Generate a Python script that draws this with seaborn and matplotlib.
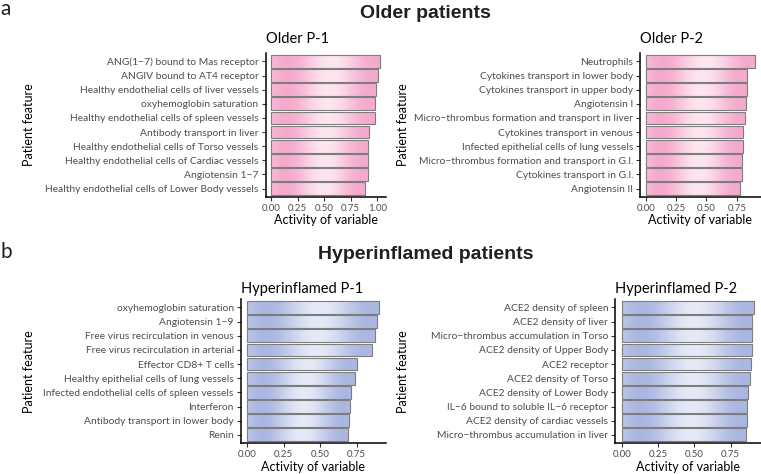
import numpy as np
import pandas as pd
import matplotlib
matplotlib.use("Agg")
import matplotlib.pyplot as plt
import seaborn as sns
from matplotlib.colors import to_rgb
from matplotlib.ticker import MultipleLocator, FormatStrFormatter

# data
older_p1_features = ["ANG(1\u22127) bound to Mas receptor", "ANGIV bound to AT4 receptor",
                     "Healthy endothelial cells of liver vessels", "oxyhemoglobin saturation",
                     "Healthy endothelial cells of spleen vessels", "Antibody transport in liver",
                     "Healthy endothelial cells of Torso vessels", "Healthy endothelial cells of Cardiac vessels",
                     "Angiotensin 1\u22127", "Healthy endothelial cells of Lower Body vessels"]
older_p1_values = [1.03, 1.01, 0.985, 0.975, 0.975, 0.925, 0.915, 0.913, 0.91, 0.888]

older_p2_features = ["Neutrophils", "Cytokines transport in lower body", "Cytokines transport in upper body",
                     "Angiotensin I", "Micro\u2212thrombus formation and transport in liver",
                     "Cytokines transport in venous", "Infected epithelial cells of lung vessels",
                     "Micro\u2212thrombus formation and transport in G.I.", "Cytokines transport in G.I.",
                     "Angiotensin II"]
older_p2_values = [0.90, 0.831, 0.831, 0.826, 0.815, 0.80, 0.798, 0.796, 0.79, 0.777]

hyper_p1_features = ["oxyhemoglobin saturation", "Angiotensin 1\u22129", "Free virus recirculation in venous",
                     "Free virus recirculation in arterial", "Effector CD8+ T cells",
                     "Healthy epithelial cells of lung vessels", "Infected endothelial cells of spleen vessels",
                     "Interferon", "Antibody transport in lower body", "Renin"]
hyper_p1_values = [0.906, 0.892, 0.876, 0.854, 0.755, 0.741, 0.709, 0.705, 0.698, 0.693]

hyper_p2_features = ["ACE2 density of spleen", "ACE2 density of liver", "Micro\u2212thrombus accumulation in Torso",
                     "ACE2 density of Upper Body", "ACE2 receptor", "ACE2 density of Torso",
                     "ACE2 density of Lower Body", "IL\u22126 bound to soluble IL\u22126 receptor",
                     "ACE2 density of cardiac vessels", "Micro\u2212thrombus accumulation in liver"]
hyper_p2_values = [0.91, 0.898, 0.896, 0.896, 0.889, 0.882, 0.869, 0.866, 0.862, 0.855]

sns.set_theme(style="white")
plt.rcParams['font.family'] = ['Lato', 'DejaVu Sans']

W, H = 761, 474
fig = plt.figure(figsize=(W / 100, H / 100), dpi=100)


def gradient_bars(ax, dark, light):
    # glassy look: medium at start, dark, light in the middle, dark at the end
    c0 = np.array(to_rgb(dark))
    c1 = np.array(to_rgb(light))
    t = np.linspace(0, 1, 300)
    w = 0.5 + 0.5 * np.cos(2 * np.pi * (t - 0.55) / 0.8)
    w = 0.12 + 0.88 * w
    img = (c0[None, :] * (1 - w[:, None]) + c1[None, :] * w[:, None])[None, :, :]
    for p in list(ax.patches):
        x0, y0, bw, bh = p.get_x(), p.get_y(), p.get_width(), p.get_height()
        im = ax.imshow(img, extent=[x0, x0 + bw, y0 + bh, y0], aspect='auto',
                       interpolation='bilinear', zorder=2)
        im.set_clip_path(p)
        p.set_facecolor('none')
        p.set_zorder(3)


def panel(px_left, px_top, px_w, px_h, features, values, title, dark, light, title_pad, ylab_px):
    ax = fig.add_axes([px_left / W, 1 - (px_top + px_h) / H, px_w / W, px_h / H])
    df = pd.DataFrame({'feature': features, 'activity': values})
    sns.barplot(data=df, x='activity', y='feature', color=dark, saturation=1,
                edgecolor='#7d7d7d', linewidth=0.8, width=0.9, ax=ax)
    gradient_bars(ax, dark, light)
    vmax = max(values)
    ax.set_xlim(-0.05 * vmax, 1.05 * vmax)
    ax.set_ylim(len(features) - 0.4, -0.6)
    ax.xaxis.set_major_locator(MultipleLocator(0.25))
    ax.xaxis.set_major_formatter(FormatStrFormatter('%.2f'))
    sns.despine(ax=ax)
    for s in ['left', 'bottom']:
        ax.spines[s].set_color('black')
        ax.spines[s].set_linewidth(1.1)
    ax.tick_params(axis='both', bottom=True, left=True, length=3, width=0.8,
                   color='#333333', labelcolor='#4d4d4d', pad=2)
    ax.tick_params(axis='y', labelsize=7.4)
    ax.tick_params(axis='x', labelsize=7.0)
    ax.set_xlabel('Activity of variable', fontsize=9, color='black', labelpad=1)
    ax.set_ylabel('Patient feature', fontsize=9, color='black')
    ax.yaxis.set_label_coords(ylab_px / W, 1 - (px_top + px_h / 2) / H, transform=fig.transFigure)
    ax.set_title(title, loc='left', fontsize=10.5, color='black', pad=title_pad)
    return ax


pink_dark, pink_light = '#f4a2c8', '#fde6f0'
blue_dark, blue_light = '#a2b0de', '#e6eaf7'

panel(265.5, 53, 120.4, 144, older_p1_features, older_p1_values, 'Older P-1',
      pink_dark, pink_light, 7, 35)
panel(640.2, 53, 120.3, 144, older_p2_features, older_p2_values, 'Older P-2',
      pink_dark, pink_light, 7, 409)
panel(240.7, 299, 145.2, 144.3, hyper_p1_features, hyper_p1_values, 'Hyperinflamed P-1',
      blue_dark, blue_light, 4.5, 35)
panel(615.1, 299, 145.4, 144.3, hyper_p2_features, hyper_p2_values, 'Hyperinflamed P-2',
      blue_dark, blue_light, 4.5, 409)

# section headers
fig.text(425 / W, 1 - 17.5 / H, 'Older patients', ha='center', va='baseline',
         fontsize=14, fontweight='bold', family='Liberation Sans', color='#231f20')
fig.text(426 / W, 1 - 259 / H, 'Hyperinflamed patients', ha='center', va='baseline',
         fontsize=14, fontweight='bold', family='Liberation Sans', color='#231f20')
fig.text(0.0, 1 - 15 / H, 'a', ha='left', va='baseline', fontsize=15, color='#231f20')
fig.text(0.0, 1 - 258 / H, 'b', ha='left', va='baseline', fontsize=15, color='#231f20')

fig.savefig('out.png', dpi=100)
